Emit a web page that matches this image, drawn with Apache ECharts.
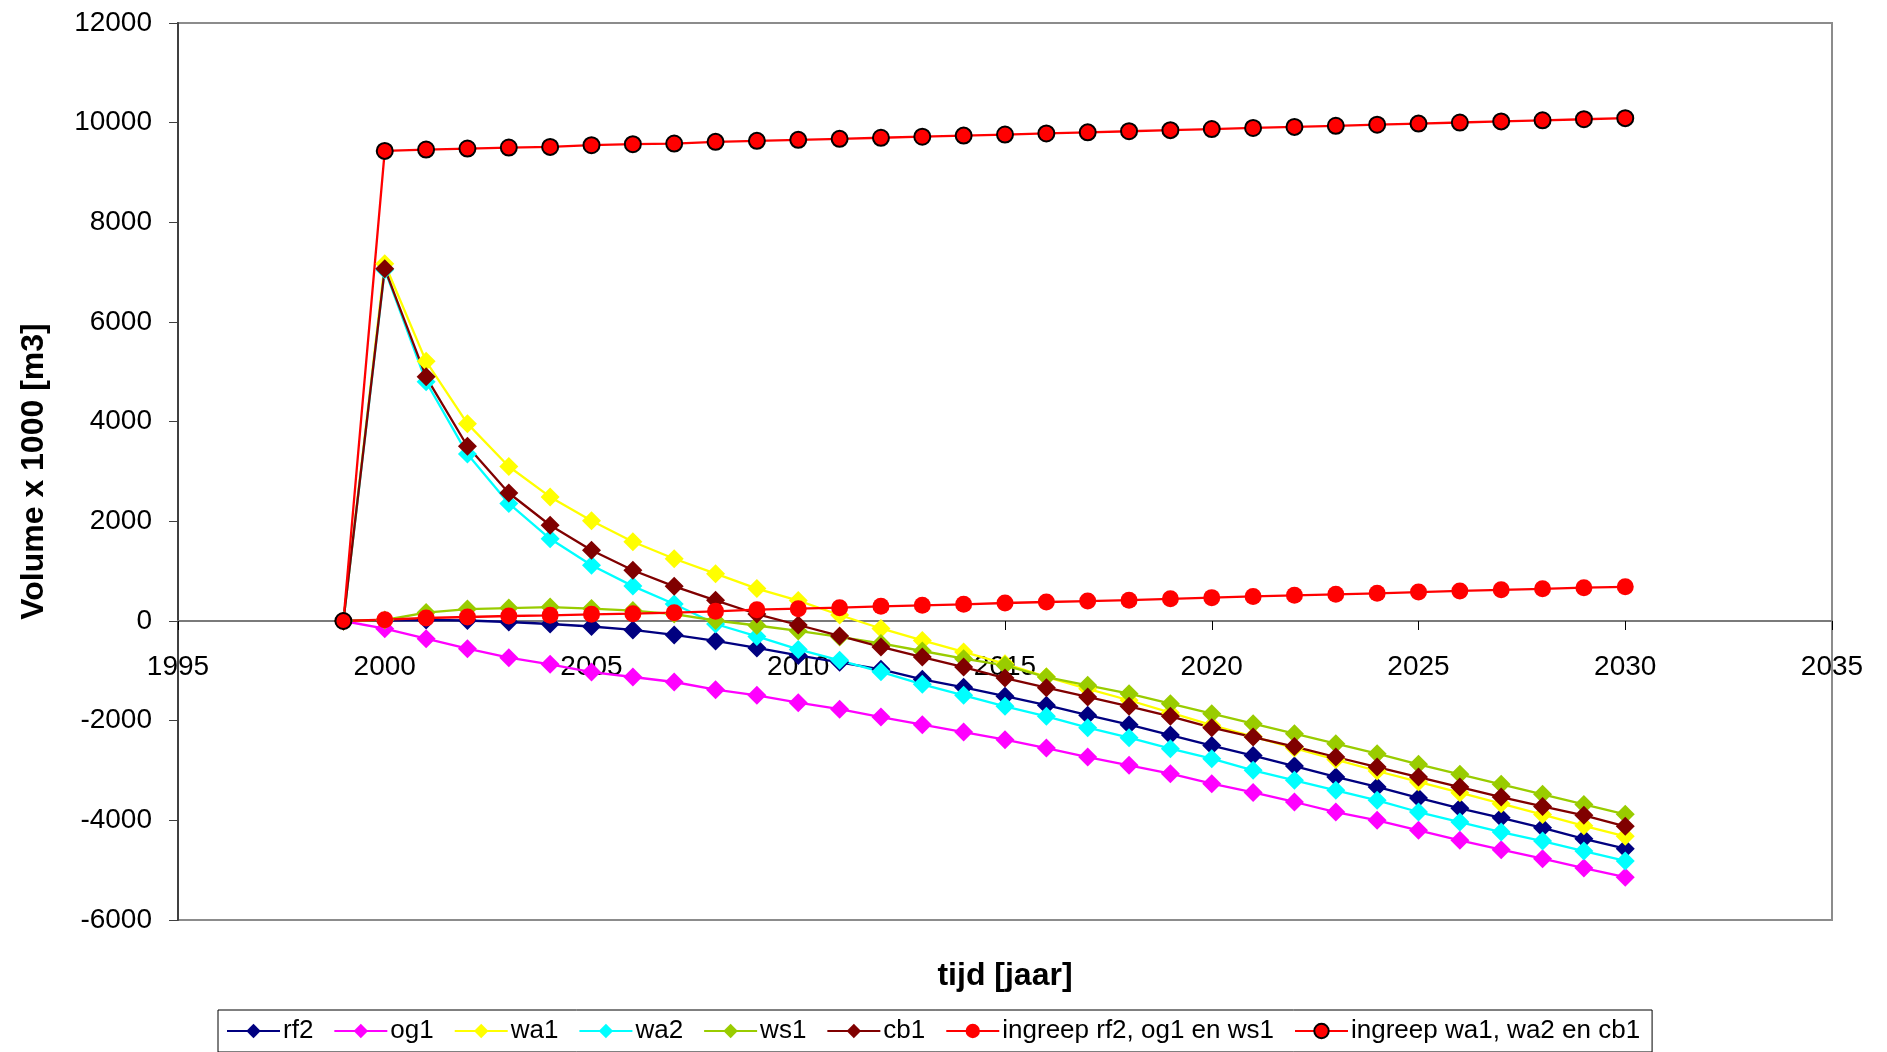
<!DOCTYPE html>
<html>
<head>
<meta charset="utf-8">
<title>Volume ontwikkeling</title>
<script src="https://cdn.jsdelivr.net/npm/echarts@6/dist/echarts.min.js"></script>
<style>
  html, body { margin: 0; padding: 0; background: #ffffff; }
  #chart { width: 1887px; height: 1052px; }
</style>
</head>
<body>
<div id="chart"></div>
<script>
// Years on the horizontal axis (1999 .. 2030)
var years = [1999, 2000, 2001, 2002, 2003, 2004, 2005, 2006, 2007, 2008, 2009, 2010,
             2011, 2012, 2013, 2014, 2015, 2016, 2017, 2018, 2019, 2020, 2021, 2022,
             2023, 2024, 2025, 2026, 2027, 2028, 2029, 2030];

// Volume x 1000 [m3] per scenario
var rf2 = [0, 10, 20, 10, -20, -60, -110, -180, -280, -400, -540, -690,
           -830, -970, -1170, -1330, -1510, -1690, -1890, -2080, -2290, -2500, -2700, -2910,
           -3130, -3330, -3550, -3760, -3950, -4150, -4370, -4570];
var og1 = [0, -154, -355, -555, -736, -870, -1024, -1124, -1224, -1378, -1492, -1640,
           -1770, -1927, -2080, -2228, -2382, -2549, -2730, -2897, -3064, -3264, -3440, -3632,
           -3833, -4000, -4201, -4402, -4589, -4770, -4957, -5140];
var wa1 = [0, 7170, 5210, 3960, 3100, 2490, 2010, 1590, 1250, 950, 650, 410,
           120, -150, -390, -620, -860, -1120, -1360, -1590, -1840, -2090, -2320, -2550,
           -2780, -3010, -3230, -3445, -3665, -3885, -4110, -4320];
var wa2 = [0, 7050, 4800, 3350, 2360, 1650, 1120, 700, 340, -60, -310, -570,
           -790, -1020, -1271, -1492, -1713, -1913, -2140, -2341, -2562, -2763, -2997, -3198,
           -3398, -3599, -3833, -4034, -4235, -4416, -4617, -4815];
var ws1 = [0, 20, 170, 240, 260, 280, 250, 210, 140, 10, -90, -200,
           -320, -450, -602, -756, -890, -1125, -1291, -1458, -1659, -1860, -2060, -2261,
           -2461, -2662, -2876, -3077, -3278, -3479, -3680, -3880];
var cb1 = [0, 7070, 4900, 3506, 2569, 1921, 1419, 1018, 696, 415, 140, -80,
           -300, -520, -723, -924, -1145, -1338, -1525, -1713, -1913, -2140, -2328, -2520,
           -2729, -2930, -3131, -3332, -3532, -3720, -3900, -4120];
var ingreepRf2Og1Ws1 = [0, 27, 60, 80, 100, 114, 134, 147, 167, 194, 227, 247,
           268, 294, 315, 335, 361, 381, 400, 418, 445, 469, 493, 515,
           535, 555, 580, 603, 625, 645, 668, 685];
var ingreepWa1Wa2Cb1 = [0, 9433, 9461, 9481, 9501, 9514, 9548, 9568, 9581, 9615, 9635, 9655,
           9675, 9697, 9718, 9740, 9762, 9784, 9806, 9828, 9850, 9872, 9894, 9915,
           9937, 9959, 9981, 10003, 10025, 10047, 10069, 10091];

// Series names as shown in the legend
var seriesNames = ['rf2', 'og1', 'wa1', 'wa2', 'ws1', 'cb1',
                   'ingreep rf2, og1 en ws1', 'ingreep wa1, wa2 en cb1'];

// Axis tick values
var xTicks = [1995, 2000, 2005, 2010, 2015, 2020, 2025, 2030, 2035];
var yTicks = [-6000, -4000, -2000, 0, 2000, 4000, 6000, 8000, 10000, 12000];

var FONT = '"Liberation Sans", Arial, Helvetica, sans-serif';

// Plot area in pixels
var GRID = { left: 178, right: 55, top: 23, bottom: 132 };
var CHART_H = 1052;
var plotH = CHART_H - GRID.top - GRID.bottom;
var yMin = yTicks[0], yMax = yTicks[yTicks.length - 1];
// the time axis sits on the zero line of the volume axis
var xAxisOffset = -plotH * (0 - yMin) / (yMax - yMin);

function pairs(values) {
  return years.map(function (y, i) { return [y, values[i]]; });
}

function lineSeries(name, values, color, symbol, size, extraItem) {
  var itemStyle = { color: color };
  if (extraItem) { for (var k in extraItem) itemStyle[k] = extraItem[k]; }
  return {
    name: name,
    type: 'line',
    data: pairs(values),
    symbol: symbol,
    symbolSize: size,
    showSymbol: true,
    lineStyle: { color: color, width: 2.3 },
    itemStyle: itemStyle,
    emphasis: { disabled: true }
  };
}

var chart = echarts.init(document.getElementById('chart'), null, { renderer: 'canvas' });

chart.setOption({
  animation: false,
  backgroundColor: '#ffffff',
  textStyle: { fontFamily: FONT },
  grid: {
    left: GRID.left, right: GRID.right, top: GRID.top, bottom: GRID.bottom,
    show: true, borderColor: '#8c8c8c', borderWidth: 2, backgroundColor: 'transparent'
  },
  xAxis: {
    type: 'value',
    position: 'bottom',
    offset: xAxisOffset,
    min: xTicks[0], max: xTicks[xTicks.length - 1], interval: 5,
    axisLine: { show: true, onZero: false, lineStyle: { color: '#7a7a7a', width: 2 } },
    axisTick: { show: true, inside: false, length: 9, lineStyle: { color: '#000000', width: 1 } },
    axisLabel: {
      margin: 32, fontSize: 28, color: '#000000', fontFamily: FONT,
      formatter: function (v) { return String(v); }
    },
    splitLine: { show: false }
  },
  yAxis: {
    type: 'value',
    min: yMin, max: yMax, interval: 2000,
    name: 'Volume x 1000 [m3]',
    nameLocation: 'middle',
    nameRotate: 90,
    nameGap: 128,
    nameTextStyle: { fontSize: 32, fontWeight: 'bold', color: '#000000', fontFamily: FONT },
    axisLine: { show: true, onZero: false, lineStyle: { color: '#404040', width: 2 } },
    axisTick: { show: true, inside: false, length: 9, lineStyle: { color: '#404040', width: 1 } },
    axisLabel: {
      margin: 26, fontSize: 28, color: '#000000', fontFamily: FONT,
      formatter: function (v) { return String(v); }
    },
    splitLine: { show: false }
  },
  graphic: [{
    type: 'text',
    x: 1005, y: 976,
    style: {
      text: 'tijd [jaar]', font: 'bold 32px ' + FONT, fill: '#000000',
      textAlign: 'center', textVerticalAlign: 'middle'
    }
  }],
  legend: {
    left: 218, top: 1010,
    orient: 'horizontal',
    data: seriesNames,
    itemWidth: 53, itemHeight: 18, itemGap: 20,
    padding: [8, 12, 8, 8],
    borderColor: '#000000', borderWidth: 1,
    backgroundColor: '#ffffff',
    selectedMode: false,
    textStyle: { fontSize: 26, color: '#000000', fontFamily: FONT, padding: [0, 0, 0, -2] }
  },
  series: [
    lineSeries(seriesNames[0], rf2, '#000080', 'diamond', 19),
    lineSeries(seriesNames[1], og1, '#ff00ff', 'diamond', 19),
    lineSeries(seriesNames[2], wa1, '#ffff00', 'diamond', 19),
    lineSeries(seriesNames[3], wa2, '#00ffff', 'diamond', 19),
    lineSeries(seriesNames[4], ws1, '#99cc00', 'diamond', 19),
    lineSeries(seriesNames[5], cb1, '#800000', 'diamond', 19),
    lineSeries(seriesNames[6], ingreepRf2Og1Ws1, '#ff0000', 'circle', 17),
    lineSeries(seriesNames[7], ingreepWa1Wa2Cb1, '#ff0000', 'circle', 16,
               { borderColor: '#000000', borderWidth: 2 })
  ]
});
</script>
</body>
</html>
